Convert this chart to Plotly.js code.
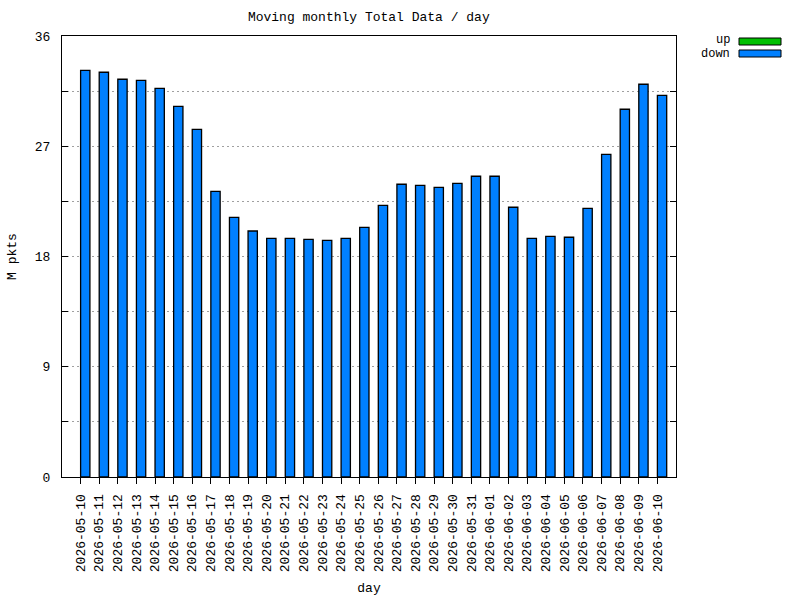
<!DOCTYPE html>
<html>
<head>
<meta charset="utf-8">
<script src="https://cdn.plot.ly/plotly-3.0.1.min.js"></script>
<style>html,body{margin:0;padding:0;background:#fff;}#chart{width:800px;height:600px;}</style>
</head>
<body>
<div id="chart"></div>
<script>
const days = ["2026-05-10","2026-05-11","2026-05-12","2026-05-13","2026-05-14","2026-05-15","2026-05-16","2026-05-17","2026-05-18","2026-05-19","2026-05-20","2026-05-21","2026-05-22","2026-05-23","2026-05-24","2026-05-25","2026-05-26","2026-05-27","2026-05-28","2026-05-29","2026-05-30","2026-05-31","2026-06-01","2026-06-02","2026-06-03","2026-06-04","2026-06-05","2026-06-06","2026-06-07","2026-06-08","2026-06-09","2026-06-10"];
const down = [33.2,33.04,32.47,32.38,31.73,30.26,28.38,23.32,21.2,20.08,19.48,19.48,19.4,19.32,19.48,20.38,22.18,23.9,23.81,23.65,23.97,24.55,24.55,22.02,19.48,19.65,19.57,21.93,26.34,30.02,32.06,31.16];
const up = days.map(() => 0);
const yTickVals = [0,4.5,9,13.5,18,22.5,27,31.5,36];
const yTickText = ["0","","9","","18","","27","","36"];

const idx = days.map((d,i) => i);
const font = "Liberation Mono, DejaVu Sans Mono, monospace";

const traces = [
  {type:"bar", name:"up", x: idx, y: up, offset: 0, width: 0.5,
   marker:{color:"#00c000", line:{color:"#000", width:0}}, showlegend:false, hoverinfo:"skip"},
  {type:"bar", name:"down", x: idx, y: down, offset: 0, width: 0.5,
   marker:{color:"#0080ff", line:{color:"#000", width:1.3}}, showlegend:false}
];

const layout = {
  width:800, height:600,
  margin:{l:62, r:124, t:36, b:123},
  paper_bgcolor:"#fff", plot_bgcolor:"#fff",
  font:{family:font, size:13, color:"#000"},
  barmode:"overlay",
  title:{text:"Moving monthly Total Data / day", x:0.461, xref:"container", y:1-16.5/600, yref:"container", yanchor:"middle", xanchor:"center", font:{family:font, size:13, color:"#000"}},
  xaxis:{range:[-1,32], tickmode:"array", tickvals: idx, ticktext: days, tickangle:-90,
    ticks:"outside", ticklen:6, tickcolor:"#000", tickwidth:1,
    showline:true, linecolor:"#000", linewidth:1, mirror:true, showgrid:false, zeroline:false,
    ticklabelstandoff:5,
    title:{text:"day", font:{family:font, size:13}, standoff:11}},
  yaxis:{range:[0,36], tickmode:"array", tickvals: yTickVals, ticktext: yTickText,
    ticks:"inside", ticklen:6, tickcolor:"#000", tickwidth:1,
    showline:true, linecolor:"#000", linewidth:1, mirror:"ticks",
    showgrid:true, gridcolor:"#a0a0a0", griddash:"2px,3px", gridwidth:1, zeroline:false,
    ticklabelstandoff:8,
    title:{text:"M pkts", font:{family:font, size:13}, standoff:15}},
  shapes:[
    {type:"rect", xref:"paper", yref:"paper", x0:(739-62)/614, x1:(781-62)/614, y0:(477-45)/441, y1:(477-38)/441, fillcolor:"#00c000", line:{color:"#000", width:1}},
    {type:"rect", xref:"paper", yref:"paper", x0:(739-62)/614, x1:(781-62)/614, y0:(477-57)/441, y1:(477-50)/441, fillcolor:"#0080ff", line:{color:"#000", width:1}}
  ],
  annotations:[
    {text:"up", xref:"paper", yref:"paper", x:(731-62)/614, y:(477-40)/441, xanchor:"right", yanchor:"middle", showarrow:false, borderpad:0, font:{family:font, size:12}},
    {text:"down", xref:"paper", yref:"paper", x:(731-62)/614, y:(477-54)/441, xanchor:"right", yanchor:"middle", showarrow:false, borderpad:0, font:{family:font, size:12}}
  ]
};

Plotly.newPlot("chart", traces, layout, {displayModeBar:false, staticPlot:true});
</script>
</body>
</html>
